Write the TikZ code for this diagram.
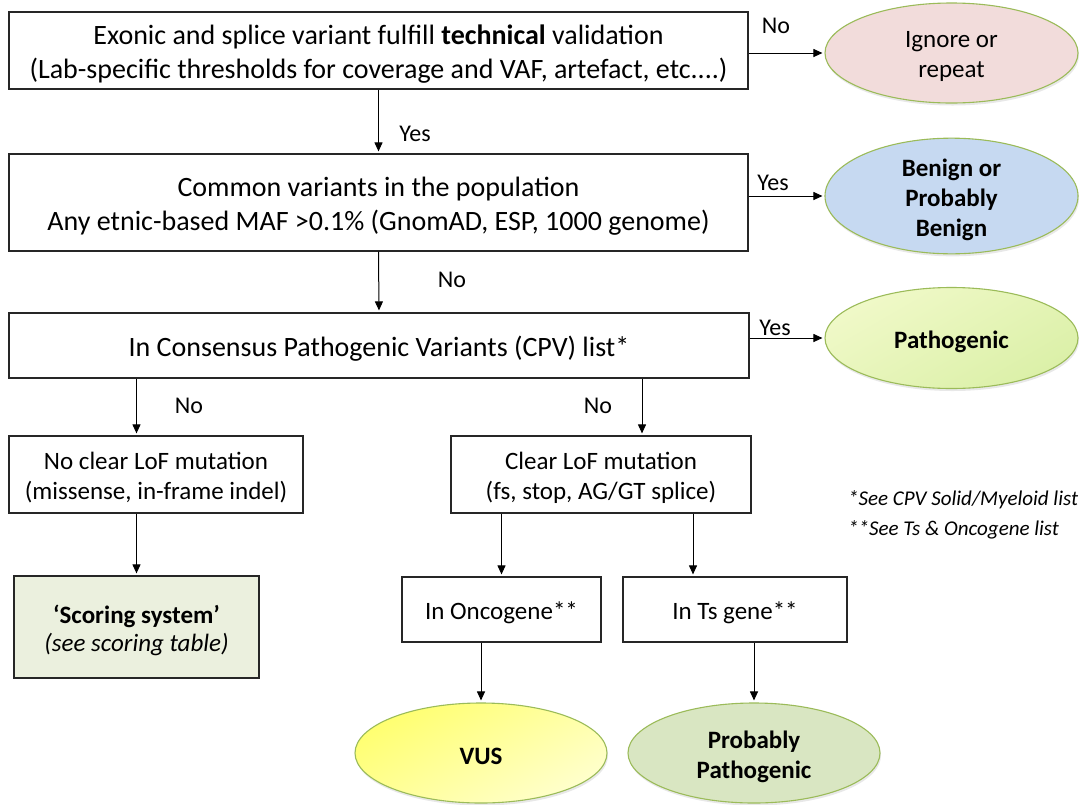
\documentclass[tikz,border=0pt]{standalone}
\usepackage{fontspec}
\setmainfont{Carlito}
\usetikzlibrary{arrows.meta,shapes.geometric,shadows}
\definecolor{ellline}{HTML}{9BBB59}
\definecolor{boxline}{HTML}{262626}
\definecolor{pinkfill}{HTML}{F2DCDB}
\definecolor{bluefill}{HTML}{C6D9F1}
\definecolor{ppfill}{HTML}{D9E6C2}
\definecolor{scorefill}{HTML}{EBF0DE}
\definecolor{pattop}{HTML}{F0F9C8}
\definecolor{patbot}{HTML}{DBF0A8}
\definecolor{vustop}{HTML}{FFFF70}
\definecolor{vusbot}{HTML}{FFFFCC}
% lower a line of text visually, keeping its declared size
\newcommand{\dn}[1]{\raisebox{-3.5pt}[\height][\depth]{#1}}
\tikzset{
  mainbox/.style={draw=boxline, line width=1.2pt, rectangle, align=center, inner sep=0pt, font=\fontsize{28}{34}\selectfont},
  smallbox/.style={draw=boxline, line width=1.2pt, rectangle, align=center, inner sep=0pt, font=\fontsize{25}{30}\selectfont},
  outcome/.style={draw=ellline, line width=1.1pt, ellipse, align=center, inner sep=0pt, font=\fontsize{25}{30}\selectfont,
    drop shadow={opacity=0.18, shadow xshift=1pt, shadow yshift=-2.5pt}},
  arr/.style={-{Triangle[length=9pt,width=8pt]}, line width=1pt, shorten >=2pt},
  lbl/.style={font=\fontsize{24}{28}\selectfont, inner sep=0pt},
  note/.style={font=\fontsize{21}{24}\selectfont\itshape, anchor=west, inner sep=0pt}
}
\begin{document}
\begin{tikzpicture}[x=1pt,y=-1pt]
\useasboundingbox[fill=white] (0,0) rectangle (1085,804);
% main boxes
\node[mainbox, minimum width=739pt, minimum height=77pt] (b1) at (378.5,50.5)
  {\dn{Exonic and splice variant fulfill \textbf{technical} validation}\\\dn{(Lab-specific thresholds for coverage and VAF, artefact, etc....)}};
\node[mainbox, minimum width=739pt, minimum height=97pt] (b2) at (378.5,202.5)
  {\dn{Common variants in the population}\\\dn{Any etnic-based MAF >0.1\% (GnomAD, ESP, 1000 genome)}};
\node[mainbox, minimum width=740pt, minimum height=65pt] (b3) at (379,345.5)
  {\dn{In Consensus Pathogenic Variants (CPV) list*}};
\node[smallbox, minimum width=294pt, minimum height=77pt] (b4l) at (156,474.5)
  {\dn{No clear LoF mutation}\\\dn{(missense, in-frame indel)}};
\node[smallbox, minimum width=300pt, minimum height=77pt] (b4r) at (601,474.5)
  {\dn{Clear LoF mutation}\\\dn{(fs, stop, AG/GT splice)}};
\node[smallbox, fill=scorefill, minimum width=245pt, minimum height=102pt, font=\fontsize{25}{28}\selectfont] (sc) at (136.5,627)
  {\dn{\textbf{‘Scoring system’}}\\\dn{\textit{(see scoring table)}}};
\node[smallbox, minimum width=199pt, minimum height=65pt] (onc) at (501.5,609.5) {\dn{In Oncogene**}};
\node[smallbox, minimum width=224pt, minimum height=65pt] (ts) at (735,609.5) {\dn{In Ts gene**}};
% outcomes
\node[outcome, fill=pinkfill, minimum width=253pt, minimum height=100pt] (ign) at (951.5,53) {\dn{Ignore or}\\\dn{repeat}};
\node[outcome, fill=bluefill, minimum width=253pt, minimum height=102pt, font=\fontsize{25}{30}\selectfont\bfseries] (ben) at (951.5,196) {\dn{Benign or}\\\dn{Probably}\\\dn{Benign}};
\node[outcome, top color=pattop, bottom color=patbot, shading angle=30, minimum width=253pt, minimum height=101pt, font=\fontsize{25}{30}\selectfont\bfseries] (pat) at (951.5,338) {\dn{Pathogenic}};
\node[outcome, top color=vustop, bottom color=vusbot, shading angle=30, minimum width=252pt, minimum height=100pt, font=\fontsize{25}{30}\selectfont\bfseries] (vus) at (481,753) {\dn{VUS}};
\node[outcome, fill=ppfill, minimum width=252pt, minimum height=100pt, font=\fontsize{25}{30}\selectfont\bfseries] (pp) at (754,753) {\dn{Probably}\\\dn{Pathogenic}};
% connectors
\coordinate (xr) at (642,474.5);
\coordinate (xts) at (693,609.5);
\draw[arr] (b1.east |- ign) -- (ign.west);
\draw[arr] (b1.south) -- (b2.north);
\draw[arr] (b2.east |- ben) -- (ben.west);
\draw[arr] (b2.south) -- (b3.north);
\draw[arr] (b3.east |- pat) -- (pat.west);
\draw[arr] (b3.south -| sc) -- (b4l.north -| sc);
\draw[arr] (b3.south -| xr) -- (b4r.north -| xr);
\draw[arr] (b4l.south -| sc) -- (sc.north);
\draw[arr] (b4r.south -| onc) -- (onc.north);
\draw[arr] (b4r.south -| xts) -- (ts.north -| xts);
\draw[arr] (onc.south -| vus) -- (vus.north);
\draw[arr] (ts.south -| pp) -- (pp.north);
% labels
\node[lbl] (l1) at (776,26) {No};
\node[lbl] (l2) at (415,134) {Yes};
\node[lbl] (l3) at (773,183) {Yes};
\node[lbl] (l4) at (452,280) {No};
\node[lbl] (l5) at (775,328) {Yes};
\node[lbl] (l6) at (189,406) {No};
\node[lbl] (l7) at (598,406) {No};
% footnotes
\node[note] (n1) at (848,500) {*See CPV Solid/Myeloid list};
\node[note] (n2) at (848,530) {**See Ts \& Oncogene list};
\end{tikzpicture}
\end{document}
